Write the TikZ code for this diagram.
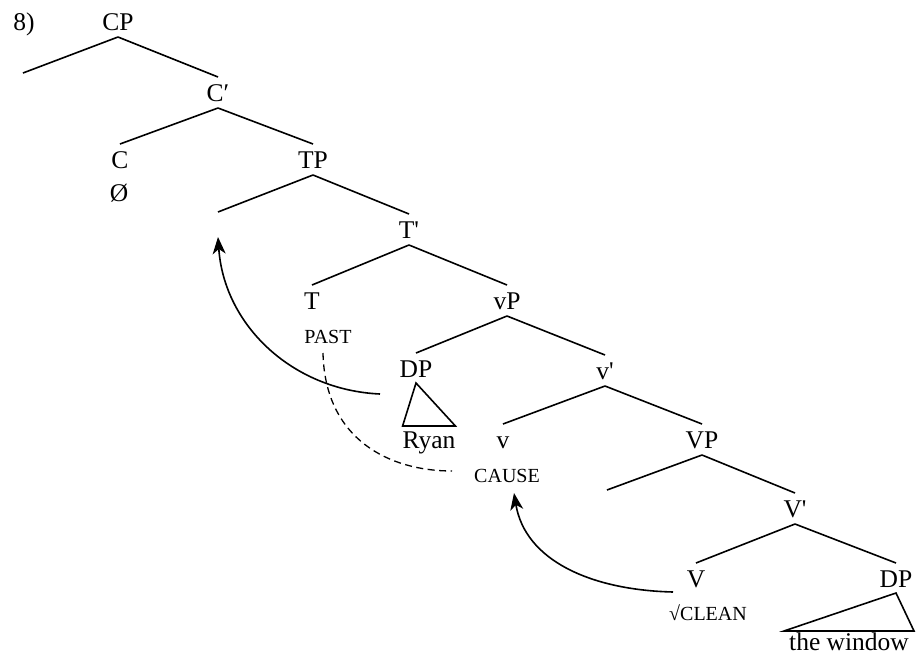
\documentclass[tikz,border=0pt]{standalone}
\usepackage{fontspec}
\setmainfont{Liberation Serif}
\usetikzlibrary{arrows.meta}
\begin{document}
\begin{tikzpicture}[x=1pt,y=-1pt,
  lab/.style={anchor=base,inner sep=0pt,outer sep=0pt,text height=24pt,text depth=7pt,
    font=\fontsize{25.5}{29}\selectfont},
  smc/.style={anchor=base,inner sep=0pt,outer sep=0pt,text height=20pt,text depth=7pt,
    font=\fontsize{20}{23}\selectfont},
  branch/.style={line width=1.6pt},
  mvarrow/.style={line width=1.6pt,-{Stealth[length=17pt,width=13pt,inset=5pt]}},
  dashline/.style={line width=1.3pt,dash pattern=on 7pt off 4.5pt}]
\useasboundingbox (0,0) rectangle (924,659);
% labels
\node[lab] (ex) at (24,30) {8)};
\node[lab] (CP) at (118,30) {CP};
\node[lab] (Cb) at (218,101) {C′};
\node[lab] (C) at (120,168) {C};
\node[lab] (Cnull) at (119,201) {Ø};
\node[lab] (TP) at (313,168) {TP};
\node[lab] (Tb) at (409,238) {T\textquotesingle};
\node[lab] (T) at (312,309) {T};
\node[smc] (past) at (328,343) {PAST};
\node[lab] (vP) at (507,309) {vP};
\node[lab] (DP) at (416,377) {DP};
\node[lab] (Ryan) at (429,448) {Ryan};
\node[lab] (vb) at (605,379) {v\textquotesingle};
\node[lab] (v) at (503,448) {v};
\node[smc] (cause) at (507,482) {CAUSE};
\node[lab] (VP) at (702,448) {VP};
\node[lab] (Vb) at (795,517) {V\textquotesingle};
\node[lab] (V) at (696,587) {V};
\node[smc] (clean) at (708,620) {√CLEAN};
\node[lab] (DPb) at (896,587) {DP};
\node[lab,minimum width=130pt] (win) at (849,650) {the window};
% empty specifier ends and movement endpoints
\coordinate (CPspec) at (23,73);
\coordinate (TPspec) at (218,212);
\coordinate (VPspec) at (607,490);
\coordinate (a1s) at (380,394);
\coordinate (a1e) at (218,237);
\coordinate (a2s) at (673,592);
\coordinate (a2e) at (514,493);
\coordinate (d1s) at (323,353);
\coordinate (d1e) at (452,471);
% branches
\draw[branch] (CP.south) -- (CPspec);
\draw[branch] (CP.south) -- (Cb.north);
\draw[branch] (Cb.south) -- (C.north);
\draw[branch] (Cb.south) -- (TP.north);
\draw[branch] (TP.south) -- (TPspec);
\draw[branch] (TP.south) -- (Tb.north);
\draw[branch] (Tb.south) -- (T.north);
\draw[branch] (Tb.south) -- (vP.north);
\draw[branch] (vP.south) -- (DP.north);
\draw[branch] (vP.south) -- (vb.north);
\draw[branch] (vb.south) -- (v.north);
\draw[branch] (vb.south) -- (VP.north);
\draw[branch] (VP.south) -- (VPspec);
\draw[branch] (VP.south) -- (Vb.north);
\draw[branch] (Vb.south) -- (V.north);
\draw[branch] (Vb.south) -- (DPb.north);
% triangles
\draw[branch,line join=miter] ([yshift=1pt]DP.south) -- ([yshift=-2pt]Ryan.north west) -- ([yshift=-2pt]Ryan.north east) -- cycle;
\draw[branch,line join=miter] ([yshift=1pt]DPb.south) -- ([yshift=-5pt]win.north west) -- ([yshift=-5pt]win.north east) -- cycle;
% movement
\draw[mvarrow] (a1s) .. controls (292,390) and (224,325) .. (a1e);
\draw[mvarrow] (a2s) .. controls (590,590) and (525,560) .. (a2e);
\draw[dashline] (d1s) .. controls (325,440) and (390,471) .. (d1e);
\end{tikzpicture}
\end{document}
